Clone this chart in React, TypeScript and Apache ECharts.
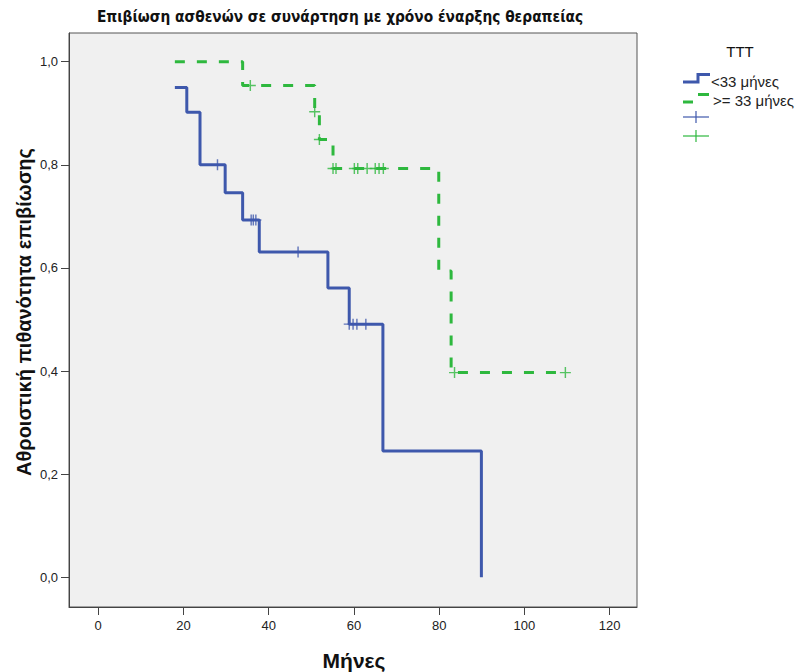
import React, { useEffect, useRef } from "react";
import * as echarts from "echarts";

const TITLE = "Επιβίωση ασθενών σε συνάρτηση με χρόνο έναρξης θεραπείας";
const X_NAME = "Μήνες";
const Y_NAME = "Αθροιστική πιθανότητα επιβίωσης";
const LEGEND_TITLE = "TTT";
const GROUP_NAMES = ["<33 μήνες", ">= 33 μήνες"];

const X_TICKS = [0, 20, 40, 60, 80, 100, 120];
const Y_TICKS = [0, 0.2, 0.4, 0.6, 0.8, 1.0];

// Kaplan–Meier steps: [time, survival after event]
const blueSteps: [number, number][] = [
  [18.0, 0.95], [20.8, 0.902], [23.9, 0.8], [29.8, 0.746], [33.9, 0.693],
  [37.8, 0.631], [53.9, 0.561], [58.9, 0.491], [66.8, 0.245], [89.9, 0.0],
];
const greenSteps: [number, number][] = [
  [18.0, 1.0], [33.9, 0.954], [50.8, 0.903], [51.9, 0.849], [55.1, 0.793],
  [79.9, 0.594], [82.8, 0.397], [109.6, 0.397],
];
// censored observations
const blueCensored: [number, number][] = [
  [28.0, 0.8], [35.9, 0.693], [36.4, 0.693], [37.0, 0.693], [46.9, 0.631],
  [58.9, 0.491], [59.8, 0.491], [60.7, 0.491], [62.8, 0.491],
];
const greenCensored: [number, number][] = [
  [35.7, 0.954], [50.8, 0.903], [51.9, 0.849], [55.1, 0.793], [55.8, 0.793],
  [60.1, 0.793], [60.9, 0.793], [63.1, 0.793], [65.0, 0.793], [65.9, 0.793],
  [66.9, 0.793], [83.6, 0.397], [109.6, 0.397],
];

const BLUE = "#3e58ac";
const GREEN = "#2eb83e";
const PLUS = "path://M4.35,0H5.65V10H4.35Z M0,4.35H10V5.65H0Z";
const FONT = "'Liberation Sans', Arial, sans-serif";

export default function App() {
  const ref = useRef<HTMLDivElement>(null);
  useEffect(() => {
    if (!ref.current) return;
    const chart = echarts.init(ref.current, null, { renderer: "svg" });
    chart.setOption({
      animation: false,
      backgroundColor: "#ffffff",
      grid: {
        left: 69, top: 33, right: 160, bottom: 65,
        show: true, backgroundColor: "#f0f0f0", borderColor: "#555555", borderWidth: 1,
      },
      xAxis: {
        type: "value", min: -6.83, max: 126.4,
        splitLine: { show: false },
        axisLine: { show: true, onZero: false, lineStyle: { color: "#444", width: 1 } },
        axisTick: { show: true, length: 8, customValues: X_TICKS, lineStyle: { color: "#444" } },
        axisLabel: {
          customValues: X_TICKS, margin: 12, color: "#222", fontSize: 13, fontFamily: FONT,
          formatter: (v: number) => String(Math.round(v)),
        },
      },
      yAxis: {
        type: "value", min: -0.0576, max: 1.0557,
        splitLine: { show: false },
        axisLine: { show: true, onZero: false, lineStyle: { color: "#444", width: 1 } },
        axisTick: { show: true, length: 8, customValues: Y_TICKS, lineStyle: { color: "#444" } },
        axisLabel: {
          customValues: Y_TICKS, margin: 11, color: "#222", fontSize: 13, fontFamily: FONT,
          formatter: (v: number) => v.toFixed(1).replace(".", ","),
        },
      },
      series: [
        {
          name: GROUP_NAMES[0], type: "line", step: "end", data: blueSteps,
          showSymbol: false, lineStyle: { color: BLUE, width: 3 }, z: 3,
        },
        {
          name: GROUP_NAMES[1], type: "line", step: "end", data: greenSteps,
          showSymbol: false, lineStyle: { color: GREEN, width: 3, type: [10, 12] }, z: 3,
        },
        {
          name: GROUP_NAMES[0] + " censored", type: "scatter", data: blueCensored,
          symbol: PLUS, symbolSize: 11, itemStyle: { color: BLUE }, z: 4,
        },
        {
          name: GROUP_NAMES[1] + " censored", type: "scatter", data: greenCensored,
          symbol: PLUS, symbolSize: 11, itemStyle: { color: GREEN }, z: 4,
        },
      ],
      graphic: [
        {
          type: "text", x: 340, y: 17,
          style: {
            text: TITLE, font: "bold 15.3px 'Liberation Sans Narrow', 'DejaVu Sans Condensed', sans-serif",
            fill: "#111", align: "center", verticalAlign: "middle",
          },
        },
        {
          type: "text", x: 354, y: 660,
          style: { text: X_NAME, font: `bold 21px ${FONT}`, fill: "#111", align: "center", verticalAlign: "middle" },
        },
        {
          type: "text", x: 24, y: 312, rotation: Math.PI / 2,
          style: { text: Y_NAME, font: `bold 20px ${FONT}`, fill: "#111", align: "center", verticalAlign: "middle" },
        },
        {
          type: "text", x: 740, y: 51,
          style: { text: LEGEND_TITLE, font: `15px ${FONT}`, fill: "#111", align: "center", verticalAlign: "middle" },
        },
        {
          type: "polyline",
          shape: { points: [[683, 82], [698, 82], [698, 74.5], [710, 74.5]] },
          style: { stroke: BLUE, lineWidth: 3, fill: null },
        },
        { type: "line", shape: { x1: 683, y1: 102, x2: 693, y2: 102 }, style: { stroke: GREEN, lineWidth: 3 } },
        { type: "line", shape: { x1: 698, y1: 94.5, x2: 709, y2: 94.5 }, style: { stroke: GREEN, lineWidth: 3 } },
        {
          type: "text", x: 711, y: 81,
          style: { text: GROUP_NAMES[0], font: `15px ${FONT}`, fill: "#222", align: "left", verticalAlign: "middle" },
        },
        {
          type: "text", x: 713, y: 100,
          style: { text: GROUP_NAMES[1], font: `15px ${FONT}`, fill: "#222", align: "left", verticalAlign: "middle" },
        },
        { type: "line", shape: { x1: 683, y1: 117, x2: 709, y2: 117 }, style: { stroke: BLUE, lineWidth: 1.2 } },
        { type: "line", shape: { x1: 696, y1: 111, x2: 696, y2: 123 }, style: { stroke: BLUE, lineWidth: 1.2 } },
        { type: "line", shape: { x1: 683, y1: 136, x2: 709, y2: 136 }, style: { stroke: GREEN, lineWidth: 1.2 } },
        { type: "line", shape: { x1: 696, y1: 130, x2: 696, y2: 142 }, style: { stroke: GREEN, lineWidth: 1.2 } },
      ],
    });
    return () => chart.dispose();
  }, []);
  return (
    <div
      ref={ref}
      style={{ position: "fixed", left: 0, top: 0, width: 797, height: 672, background: "#fff" }}
    />
  );
}
